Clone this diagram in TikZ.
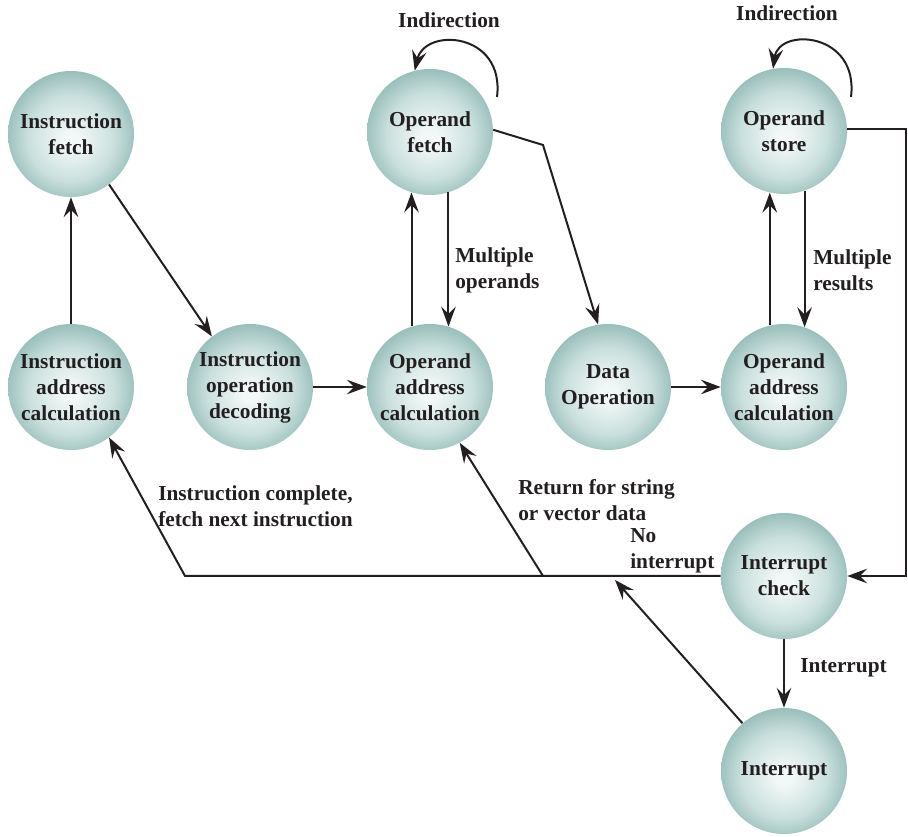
\documentclass[tikz,border=0pt]{standalone}
\usepackage{fontspec}
\setmainfont{Liberation Serif}
\usetikzlibrary{arrows.meta}
\definecolor{ballc}{RGB}{242,248,247}
\definecolor{ballm}{RGB}{202,224,221}
\definecolor{balle}{RGB}{146,186,182}
\definecolor{ink}{RGB}{35,31,32}
\pgfdeclareradialshading{ball}{\pgfpoint{0bp}{-2.5bp}}{color(0bp)=(ballc); color(3bp)=(ballc); color(17bp)=(ballm); color(27.5bp)=(balle); color(50bp)=(balle)}
\begin{document}
\begin{tikzpicture}[x=0.75pt,y=-0.75pt,
  stt/.style={circle, minimum size=94.5pt, inner sep=0pt, shading=ball, align=center,
    font=\bfseries\fontsize{16}{19.5}\selectfont, text=ink},
  lbl/.style={align=left, inner sep=0pt, font=\bfseries\fontsize{16}{19.5}\selectfont, text=ink},
  arr/.style={-{Stealth[length=15pt,width=11pt,inset=5.5pt]}, line width=1.5pt, draw=ink}]
\useasboundingbox (0,0) rectangle (908,837);
% states
\node[stt] (if) at (71,134) {Instruction\\fetch};
\node[stt] (iac) at (71,387) {Instruction\\address\\calculation};
\node[stt] (iod) at (250,387) {Instruction\\operation\\decoding};
\node[stt] (of) at (430,132) {Operand\\fetch};
\node[stt] (oac) at (430,387) {Operand\\address\\calculation};
\node[stt] (do) at (608,387) {Data\\Operation};
\node[stt] (os) at (784,131) {Operand\\store};
\node[stt] (oac2) at (784,387) {Operand\\address\\calculation};
\node[stt] (ic) at (784,576) {Interrupt\\check};
\node[stt] (int) at (784,771) {Interrupt};
% labels
\node[lbl] (ind1) at (449,20) {Indirection};
\node[lbl] (ind2) at (787,13) {Indirection};
\node[lbl, anchor=west] (mo) at (455,270) {Multiple\\operands};
\node[lbl, anchor=west] (mr) at (813,270) {Multiple\\results};
\node[lbl, anchor=west] (icf) at (158,506) {Instruction complete,\\fetch next instruction};
\node[lbl, anchor=west] (rfs) at (518,500) {Return for string\\or vector data};
\node[lbl, anchor=west] (ni) at (630,551) {No\\interrupt};
\node[lbl, anchor=west] (il) at (800,668) {Interrupt};
% coordinates
\coordinate (l1s) at (497,97);
\coordinate (l2s) at (851,97);
\coordinate (b1) at (543,145);
\coordinate (rt) at (906,576);
\coordinate (bl) at (185,576);
\coordinate (rj) at (543,576);
\coordinate (ij) at (615,580);
% connectors
\draw[arr] (iac.north) -- (if.south);
\draw[arr] (if.-53) -- (iod.127);
\draw[arr] (iod.east) -- (oac.west);
\draw[arr] (oac.107) -- (of.253);
\draw[arr] (of.-73) -- (oac.73);
\draw[arr] (of.2) -- (b1) -- (do.99);
\draw[arr] (do.east) -- (oac2.west);
\draw[arr] (oac2.103) -- (os.257);
\draw[arr] (os.-71.5) -- (oac2.71.5);
\draw[arr] (os.2) -| (rt) -- (ic.east);
\draw[arr] (ic.west) -- (bl) -- (iac.-53);
\draw[arr] (rj) -- (oac.-62);
\draw[arr] (ic.south) -- (int.north);
\draw[arr] (int.131) -- (ij);
\draw[arr] (l1s) .. controls (505,32) and (425,27) .. (of.104);
\draw[arr] (l2s) .. controls (859,32) and (779,27) .. (os.100);
\end{tikzpicture}
\end{document}
